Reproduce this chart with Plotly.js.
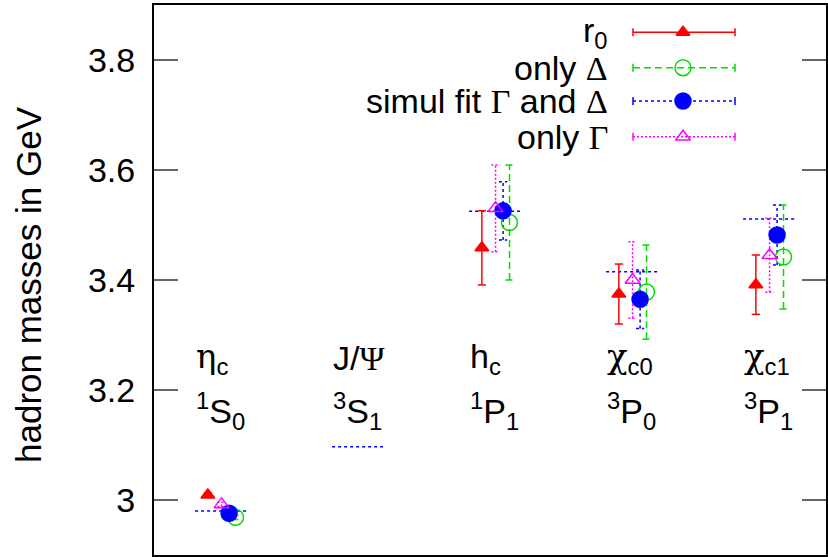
<!DOCTYPE html>
<html><head><meta charset="utf-8">
<script src="https://cdn.plot.ly/plotly-3.0.1.min.js"></script>
<style>body{margin:0;background:#fff}</style>
</head><body><div id="chart" style="width:828px;height:557px"></div>
<script>
// ---- data ----
const categories = ['eta_c', 'J/Psi', 'h_c', 'chi_c0', 'chi_c1'];
const G = s => '<span style="font-family:Liberation Serif">' + s + '</span>';
const g = s => '<span style="font-family:DejaVu Serif">' + s + '</span>';
const catLabels = [g('η') + '<sub>c</sub>', 'J/' + G('Ψ'), 'h<sub>c</sub>', g('χ') + '<sub>c0</sub>', g('χ') + '<sub>c1</sub>'];
const stateLabels = ['<sup>1</sup>S<sub>0</sub>', '<sup>3</sup>S<sub>1</sub>', '<sup>1</sup>P<sub>1</sub>', '<sup>3</sup>P<sub>0</sub>', '<sup>3</sup>P<sub>1</sub>'];
const expMass   = [2.980, 3.097, 3.525, 3.415, 3.511];
const r0Mass    = [3.009, null, 3.4585, 3.3745, 3.3915];
const r0Err     = [0.004, null, 0.0675, 0.0545, 0.054];
const deltaMass = [2.9685, null, 3.5045, 3.378, 3.4418];
const deltaErr  = [0.004, null, 0.1045, 0.0855, 0.0945];
const simulMass = [2.9758, null, 3.5257, 3.365, 3.4818];
const simulErr  = [0.004, null, 0.053, 0.053, 0.0545];
const gammaMass = [2.992, null, 3.5303, 3.400, 3.445];
const gammaErr  = [0.004, null, 0.0788, 0.0696, 0.0673];
const seriesNames = ['r<sub>0</sub>', 'only ' + G('Δ'), 'simul fit ' + G('Γ') + ' and ' + G('Δ'), 'only ' + G('Γ')];

// ---- style ----
const FONT = 'Liberation Sans, Arial, sans-serif';
const FS = 34;
const xPos = categories.map((c, i) => i + 1);
const series = [
  {name: seriesNames[0], y: r0Mass, e: r0Err, off: -0.097, color: '#ff0000', dash: 'solid', sym: 'triangle-up', size: 12},
  {name: seriesNames[1], y: deltaMass, e: deltaErr, off: 0.105, color: '#00dd00', dash: '7px,4px', sym: 'circle-open', size: 16},
  {name: seriesNames[2], y: simulMass, e: simulErr, off: 0.058, color: '#0000ff', dash: '3px,3px', sym: 'circle', size: 16},
  {name: seriesNames[3], y: gammaMass, e: gammaErr, off: 0.003, color: '#ff00ff', dash: '2px,2px', sym: 'triangle-up-open', size: 13}
];
const CAP = 0.03;
const traces = [];

// experimental lines
{
  const xs = [], ys = [];
  expMass.forEach((m, i) => { xs.push(xPos[i] - 0.19, xPos[i] + 0.19, null); ys.push(m, m, null); });
  traces.push({x: xs, y: ys, mode: 'lines', line: {color: '#0000ff', width: 1.5, dash: '3px,3px'}, hoverinfo: 'skip', showlegend: false});
}
series.forEach(s => {
  const xs = [], ys = [];
  s.y.forEach((v, i) => {
    if (v === null) return;
    const x = xPos[i] + s.off, lo = v - s.e[i], hi = v + s.e[i];
    xs.push(x, x, null, x - CAP, x + CAP, null, x - CAP, x + CAP, null);
    ys.push(lo, hi, null, lo, lo, null, hi, hi, null);
  });
  traces.push({x: xs, y: ys, mode: 'lines', line: {color: s.color, width: 1.5, dash: s.dash}, hoverinfo: 'skip', showlegend: false});
});
series.forEach(s => {
  traces.push({x: xPos.map(x => x + s.off), y: s.y, mode: 'markers', showlegend: false,
    marker: {symbol: s.sym, size: s.size, color: s.color, line: {color: s.color, width: 1.5}}});
});

// ---- custom legend (text left, sample right), in paper coords ----
const L = 154, R = 826, T = 5, B = 555;
const px = v => (v - L) / (R - L), py = v => (B - v) / (B - T);
const legRows = [32.3, 67.7, 101, 136.7];
const shapes = [], annotations = [];
series.forEach((s, k) => {
  const yy = py(legRows[k]);
  shapes.push({type: 'line', xref: 'paper', yref: 'paper', x0: px(633), x1: px(735), y0: yy, y1: yy, line: {color: s.color, width: 1.5, dash: s.dash}});
  [633, 735].forEach(cx => shapes.push({type: 'line', xref: 'paper', yref: 'paper', x0: px(cx), x1: px(cx), y0: py(legRows[k] - 4), y1: py(legRows[k] + 4), line: {color: s.color, width: 1.5}}));
  annotations.push({xref: 'paper', yref: 'paper', x: px(610), y: yy, xanchor: 'right', yanchor: 'middle', text: s.name, showarrow: false, font: {family: FONT, size: FS, color: '#000'}});
  traces.push({x: [px(683)], y: [yy], xaxis: 'x2', yaxis: 'y2', mode: 'markers', showlegend: false, hoverinfo: 'skip',
    marker: {symbol: s.sym, size: s.size, color: s.color, line: {color: s.color, width: 1.5}}});
});

// category labels
categories.forEach((c, i) => {
  annotations.push({x: xPos[i] - 0.2, y: 3.258, xanchor: 'left', yanchor: 'middle', text: catLabels[i], showarrow: false, font: {family: FONT, size: FS, color: '#000'}});
  annotations.push({x: xPos[i] - 0.2, y: 3.162, xanchor: 'left', yanchor: 'middle', text: stateLabels[i], showarrow: false, font: {family: FONT, size: FS, color: '#000'}});
});
// y title
annotations.push({xref: 'paper', yref: 'paper', x: px(29), y: py(285), xanchor: 'center', yanchor: 'middle', textangle: -90,
  text: 'hadron masses in GeV', showarrow: false, font: {family: FONT, size: 35, color: '#000'}});

const layout = {
  width: 828, height: 557,
  margin: {l: L, r: 828 - R, t: T, b: 557 - B, pad: 0},
  paper_bgcolor: '#fff', plot_bgcolor: '#fff',
  showlegend: false,
  xaxis: {range: [0.51, 5.415], showline: true, mirror: true, linecolor: '#000', linewidth: 2, showgrid: false, zeroline: false, showticklabels: false, ticks: ''},
  yaxis: {range: [2.9, 3.9], tickvals: [3, 3.2, 3.4, 3.6, 3.8], ticktext: ['3', '3.2', '3.4', '3.6', '3.8'],
    ticks: 'inside', ticklen: 24, tickwidth: 2, tickcolor: '#666', showline: true, mirror: 'ticks', linecolor: '#000', linewidth: 2,
    showgrid: false, zeroline: false, ticklabelstandoff: 10, tickfont: {family: FONT, size: FS, color: '#000'}},
  xaxis2: {overlaying: 'x', range: [0, 1], visible: false, fixedrange: true},
  yaxis2: {overlaying: 'y', range: [0, 1], visible: false, fixedrange: true},
  shapes: shapes, annotations: annotations
};
Plotly.newPlot('chart', traces, layout, {staticPlot: true, displayModeBar: false});
</script></body></html>
